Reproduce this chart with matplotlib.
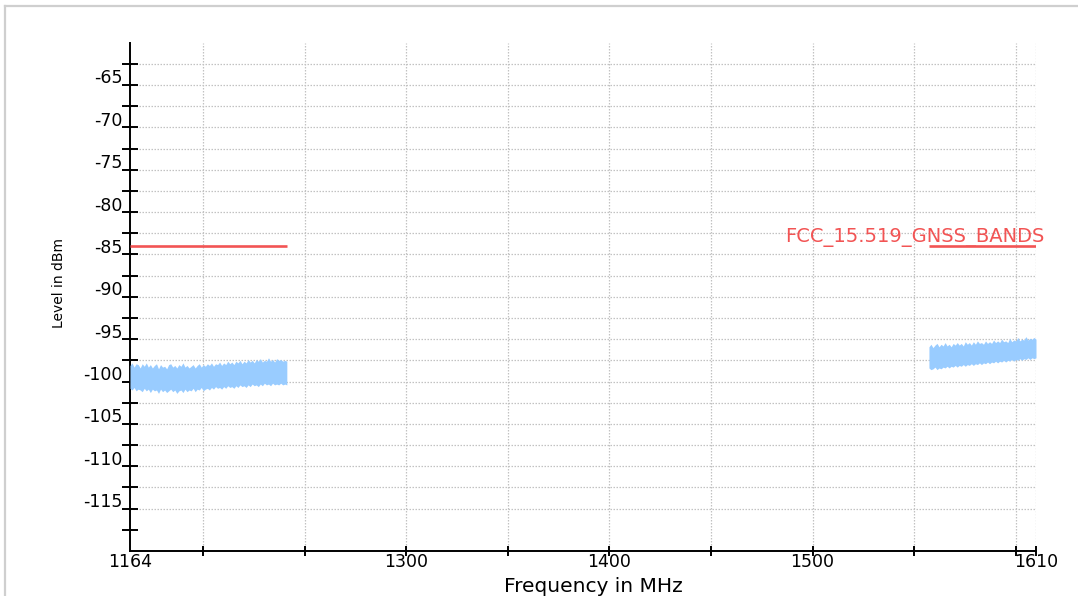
import matplotlib
matplotlib.use("Agg")
import matplotlib.pyplot as plt
from matplotlib.lines import Line2D
import numpy as np

# ---------------- data ----------------
x_ticks = [1164, 1200, 1250, 1300, 1350, 1400, 1450, 1500, 1550, 1600, 1610]
x_ticklabels = ["1164", "", "", "1300", "", "1400", "", "1500", "", "", "1610"]
y_labels_at = [-115, -110, -105, -100, -95, -90, -85, -80, -75, -70, -65]
y_ticklabels = ["-115", "-110", "-105", "-100", "-95", "-90", "-85", "-80", "-75", "-70", "-65"]
y_marks_at = [-118.5, -116, -113.5, -111, -108.5, -106, -103.5, -101, -98.5, -96, -93.5,
              -91, -88.5, -86, -83.5, -81, -78.5, -76, -73.5, -71, -68.5, -66, -63.5]

# limit line FCC_15.519_GNSS_BANDS (segments: start, end, level)
limit_start = [1164.0, 1557.3]
limit_end = [1241.2, 1610.0]
limit_level = [-85.0, -85.0]
limit_name = "FCC_15.519_GNSS_BANDS"

# measured trace envelope (max / min hold), lower GNSS band
band_L = [1164.0, 1241.2]
upper_L = [-99.1, -98.8, -99.3, -98.9, -99.0, -99.4, -98.9, -99.2, -98.8, -99.3,
           -99.0, -99.4, -99.1, -98.9, -99.5, -99.0, -99.3, -99.2, -99.5, -99.0,
           -98.9, -99.3, -99.1, -99.4, -99.0, -99.2, -98.8, -99.3, -99.1, -99.4,
           -99.2, -99.0, -99.4, -99.1, -98.9, -99.3, -99.0, -99.2, -98.9, -99.1,
           -98.8, -99.2, -98.9, -99.0, -98.7, -99.1, -98.8, -99.0, -98.6, -98.9,
           -98.7, -99.0, -98.6, -98.8, -98.5, -98.9, -98.6, -98.8, -98.4, -98.7,
           -98.5, -98.8, -98.4, -98.6, -98.3, -98.7, -98.5, -98.6, -98.2, -98.6,
           -98.4, -98.7, -98.3, -98.5, -98.4, -98.6, -98.5, -98.6]
lower_L = [-101.8, -102.0, -101.7, -102.1, -101.9, -102.0, -102.2, -101.8, -102.1, -101.9,
           -102.3, -101.9, -102.1, -102.0, -102.4, -101.9, -102.2, -102.0, -102.3, -102.1,
           -101.9, -102.2, -102.0, -102.4, -102.1, -102.0, -102.3, -101.9, -102.2, -102.0,
           -102.1, -101.8, -102.2, -101.9, -102.0, -101.7, -102.1, -101.9, -101.8, -102.0,
           -101.7, -101.9, -101.6, -101.8, -101.7, -101.9, -101.6, -101.8, -101.5, -101.7,
           -101.6, -101.8, -101.5, -101.7, -101.4, -101.6, -101.5, -101.7, -101.4, -101.6,
           -101.3, -101.5, -101.4, -101.6, -101.3, -101.5, -101.2, -101.4, -101.3, -101.5,
           -101.2, -101.4, -101.3, -101.4, -101.2, -101.4, -101.3, -101.4]

# measured trace envelope, upper GNSS band
band_R = [1557.3, 1610.0]
upper_R = [-96.9, -96.6, -97.0, -96.7, -96.5, -96.9, -96.6, -96.8, -96.4, -96.8,
           -96.6, -96.9, -96.5, -96.7, -96.4, -96.7, -96.5, -96.8, -96.3, -96.6,
           -96.4, -96.7, -96.3, -96.6, -96.2, -96.5, -96.4, -96.6, -96.2, -96.5,
           -96.3, -96.5, -96.1, -96.4, -96.2, -96.4, -96.0, -96.3, -96.2, -96.4,
           -95.9, -96.3, -96.1, -96.2, -95.8, -96.2, -96.0, -96.1, -95.7, -96.1,
           -95.9, -96.0, -95.8, -96.0]
lower_R = [-99.4, -99.6, -99.5, -99.3, -99.6, -99.4, -99.5, -99.3, -99.4, -99.2,
           -99.4, -99.2, -99.3, -99.1, -99.3, -99.1, -99.2, -99.0, -99.2, -99.0,
           -99.1, -98.9, -99.1, -98.9, -99.0, -98.8, -99.0, -98.8, -98.9, -98.7,
           -98.9, -98.7, -98.8, -98.6, -98.8, -98.6, -98.7, -98.5, -98.7, -98.5,
           -98.6, -98.4, -98.6, -98.4, -98.5, -98.3, -98.5, -98.3, -98.4, -98.2,
           -98.4, -98.2, -98.3, -98.2]

# ---------------- style ----------------
plt.rcParams['font.family'] = ['DejaVu Sans']
TRACE = '#99ccff'
LIMIT = '#f25454'
GRID = '#c2c2c2'

W, H = 1078, 596
fig = plt.figure(figsize=(W / 100, H / 100), dpi=100)
fig.patch.set_facecolor('white')

# outer light frame
fig.add_artist(Line2D([5 / W, 1.0], [1 - 6 / H, 1 - 6 / H], transform=fig.transFigure,
                      color='#cfcfcf', lw=1.6))
fig.add_artist(Line2D([5 / W, 5 / W], [0.0, 1 - 6 / H], transform=fig.transFigure,
                      color='#cfcfcf', lw=1.6))

ax = fig.add_axes([130 / W, 1 - 551 / H, (1036 - 130) / W, (551 - 42.6) / H])
ax.set_xlim(1164, 1610)
ax.set_ylim(-121, -61)

# trace
fL = np.linspace(band_L[0], band_L[1], len(upper_L))
fR = np.linspace(band_R[0], band_R[1], len(upper_R))
ax.fill_between(fL, lower_L, upper_L, color=TRACE, lw=0, zorder=3)
ax.fill_between(fR, lower_R, upper_R, color=TRACE, lw=0, zorder=3)

# limit line
ax.hlines(limit_level, limit_start, limit_end, colors=LIMIT, lw=1.9, zorder=4)
ax.text(1614, -84.05, limit_name, color=LIMIT, ha='right', va='center', fontsize=14,
        zorder=5)

# spines
for s in ['top', 'right']:
    ax.spines[s].set_visible(False)
for s in ['left', 'bottom']:
    ax.spines[s].set_linewidth(1.4)
    ax.spines[s].set_color('black')

# x ticks
ax.set_xticks(x_ticks)
ax.set_xticklabels(x_ticklabels, fontsize=12.5)
ax.tick_params(axis='x', which='major', direction='inout', length=7.5, width=1.4, pad=-2.5)

# y ticks: labels centred on their values, tick marks on the 2.5 dB raster
ax.set_yticks(y_labels_at)
ax.set_yticklabels(y_ticklabels, fontsize=12.5)
ax.set_yticks(y_marks_at, minor=True)
ax.tick_params(axis='y', which='major', length=0, pad=5.5)
ax.tick_params(axis='y', which='minor', direction='inout', length=11, width=1.4)

# grid
ax.grid(True, axis='x', which='major', color=GRID, linestyle=(0, (1.2, 1.2)), linewidth=0.9)
ax.grid(True, axis='y', which='minor', color=GRID, linestyle=(0, (1.2, 1.2)), linewidth=0.9)
ax.set_axisbelow(True)
for t, v in zip(ax.yaxis.get_minor_ticks(), y_marks_at):
    if v == -118.5:
        t.gridline.set_visible(False)
for t, v in zip(ax.xaxis.get_major_ticks(), x_ticks):
    if v == 1164:
        t.gridline.set_visible(False)
        t.tick1line.set_visible(False)

# axis titles
fig.text(59 / W, 1 - 283 / H, "Level in dBm", rotation=90, ha='center', va='center',
         fontsize=10)
fig.text(593 / W, 1 - 586 / H, "Frequency in MHz", ha='center', va='center',
         fontsize=14.5)

fig.savefig("out.png", dpi=100)
